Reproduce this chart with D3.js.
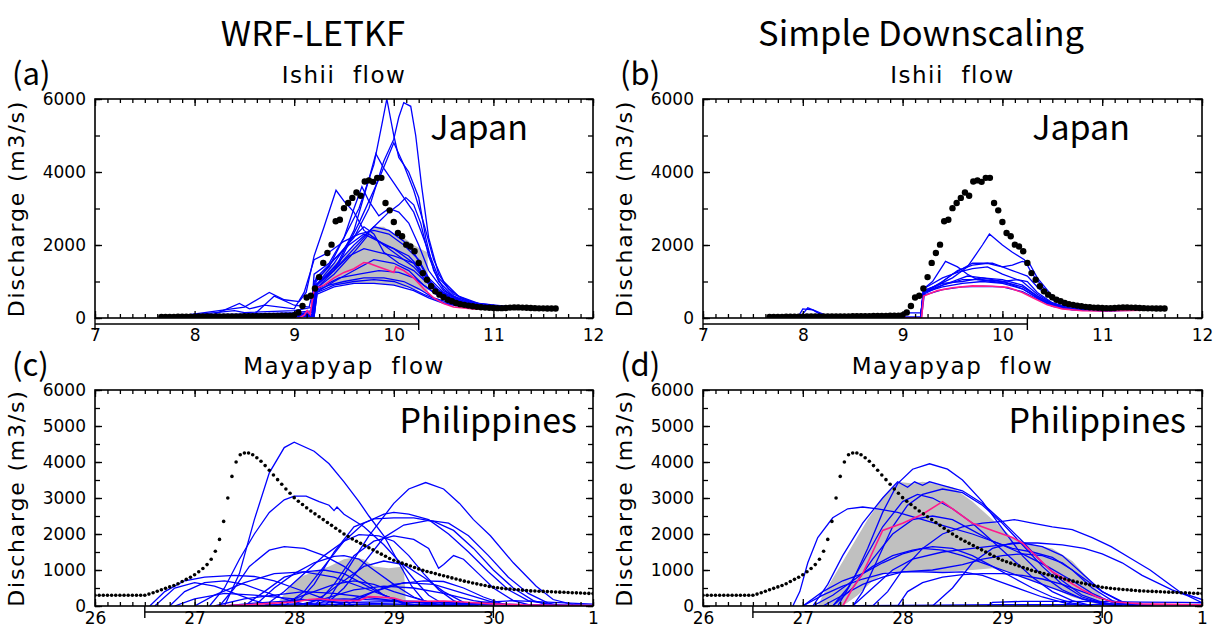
<!DOCTYPE html>
<html>
<head>
<meta charset="utf-8">
<script src="https://cdn.jsdelivr.net/npm/d3@7.9.0/dist/d3.min.js"></script>
<style>
  body { margin: 0; background: #fff; }
  svg text { fill: #000; }
</style>
</head>
<body>
<svg id="chart" width="1215" height="630"></svg>
<script>
// ---- observed discharge (hourly) ----
const japanObsStart = 7 + 16 / 24;
const japanObs = [
  30, 30, 30, 30, 35, 35, 35, 35, 35, 40, 40, 40, 40, 40, 40, 45,
  45, 45, 45, 45, 50, 50, 50, 50, 50, 55, 55, 55, 55, 60, 60, 65,
  80, 150, 330, 560, 610, 810, 1120, 1510, 1780, 2010, 2650, 2690, 3010, 3150,
  3290, 3440, 3350, 3740, 3770, 3730, 3840, 3840, 3150, 2950, 2630, 2330, 2240, 2010,
  1960, 1830, 1510, 1230, 1050, 870, 730, 640, 570, 500, 460, 410, 380, 360,
  340, 320, 305, 295, 285, 280, 275, 270, 270, 275, 285, 290, 290, 285, 280,
  275, 270, 265, 265, 260, 260, 260
];
const philObsStart = 26;
const philObs = [
  300, 300, 300, 300, 300, 300, 300, 300, 300, 300, 300, 300, 300,
  330, 370, 410, 450, 490, 530, 570, 620, 680, 740, 800, 870,
  950, 1040, 1150, 1300, 1520, 1850, 2350, 3000, 3600, 4000, 4200, 4250,
  4250, 4200, 4120, 4020, 3900, 3770, 3640, 3510, 3380, 3250, 3130, 3010,
  2910, 2820, 2730, 2640, 2560, 2480, 2400, 2320, 2240, 2160, 2080, 2000,
  1930, 1860, 1800, 1740, 1680, 1620, 1560, 1500, 1440, 1380, 1320, 1270,
  1230, 1190, 1150, 1110, 1070, 1030, 990, 960, 930, 900, 870, 840,
  810, 780, 750, 720, 690, 665, 640, 615, 590, 570, 545, 520,
  505, 490, 480, 470, 460, 450, 440, 430, 420, 415, 410, 405,
  400, 395, 390, 385, 380, 375, 370, 365, 360, 355, 350, 345
];

// ---- ensemble members: [day, discharge] ----
const japanLetkfMembers = [
  [[7.7,0],[8.0,30],[8.5,60],[9.0,100],[9.17,150],[9.2,1200],[9.35,1500],[9.5,2200],[9.65,3000],[9.8,4200],[9.88,5300],[9.93,6000],[10.0,5000],[10.05,4400],[10.15,4000],[10.25,3300],[10.32,2200],[10.4,1300],[10.5,800],[10.6,560],[10.8,380],[11.0,310],[11.3,290],[11.6,260]],
  [[7.7,0],[8.5,40],[9.0,80],[9.18,100],[9.22,1000],[9.4,1600],[9.6,2200],[9.75,3000],[9.9,4300],[10.0,4900],[10.05,5500],[10.1,5900],[10.17,5800],[10.22,5000],[10.28,3600],[10.35,2200],[10.45,1200],[10.55,800],[10.7,500],[10.9,360],[11.2,300],[11.6,260]],
  [[7.7,0],[8.7,120],[9.0,150],[9.2,200],[9.23,900],[9.45,1500],[9.65,2600],[9.85,3800],[10.0,4800],[10.1,4200],[10.2,3500],[10.3,2600],[10.4,1600],[10.5,1000],[10.65,600],[10.85,400],[11.2,300],[11.6,260]],
  [[7.7,0],[8.3,100],[9.0,120],[9.2,150],[9.22,800],[9.4,1300],[9.6,2400],[9.75,3800],[9.82,4500],[9.9,4100],[10.0,3700],[10.1,3300],[10.2,2900],[10.27,2400],[10.35,1800],[10.45,1100],[10.6,650],[10.8,420],[11.1,310],[11.6,260]],
  [[7.7,0],[8.1,150],[8.5,300],[8.75,700],[8.9,500],[9.05,450],[9.12,700],[9.2,1700],[9.3,2500],[9.42,3500],[9.5,3200],[9.6,2900],[9.7,2400],[9.8,2200],[9.9,2000],[10.0,1900],[10.1,1700],[10.2,1500],[10.3,1100],[10.45,700],[10.6,480],[10.8,350],[11.1,300],[11.6,260]],
  [[7.7,0],[8.5,50],[9.0,100],[9.19,100],[9.21,900],[9.4,1300],[9.6,1900],[9.8,2500],[9.95,2900],[10.05,3100],[10.12,3300],[10.2,3100],[10.27,2600],[10.35,1700],[10.45,1000],[10.6,600],[10.8,400],[11.1,300],[11.6,260]],
  [[7.7,0],[8.6,80],[9.0,90],[9.18,150],[9.2,1000],[9.35,1400],[9.5,2200],[9.6,3000],[9.68,3600],[9.75,3200],[9.85,2800],[9.95,3000],[10.05,2900],[10.15,2600],[10.25,2000],[10.35,1300],[10.5,750],[10.7,450],[11.0,300],[11.6,260]],
  [[7.7,0],[8.4,200],[8.5,150],[9.0,200],[9.2,300],[9.23,900],[9.4,1400],[9.6,2000],[9.8,2500],[9.95,2400],[10.1,2100],[10.2,1800],[10.3,1300],[10.4,850],[10.6,520],[10.8,380],[11.1,300],[11.6,260]],
  [[7.7,0],[8.6,100],[8.8,600],[9.0,350],[9.15,300],[9.22,1100],[9.4,1600],[9.55,2000],[9.7,2300],[9.85,2100],[10.0,1900],[10.15,1700],[10.25,1400],[10.35,1000],[10.5,650],[10.7,420],[11.0,300],[11.6,255]],
  [[7.7,0],[9.0,60],[9.19,80],[9.22,800],[9.4,1200],[9.6,1800],[9.75,2300],[9.9,2000],[10.05,1700],[10.2,1400],[10.3,1100],[10.45,700],[10.6,480],[10.9,330],[11.6,250]],
  [[7.7,0],[9.0,50],[9.19,60],[9.22,700],[9.4,1000],[9.6,1300],[9.8,1600],[10.0,1500],[10.15,1300],[10.3,900],[10.45,600],[10.6,420],[10.9,300],[11.6,250]],
  [[7.7,0],[9.0,40],[9.19,50],[9.22,750],[9.35,900],[9.5,1000],[9.7,1100],[9.9,1100],[10.1,1000],[10.25,800],[10.4,550],[10.6,380],[10.9,290],[11.6,250]],
  [[7.7,0],[9.0,40],[9.2,50],[9.23,650],[9.4,850],[9.6,950],[9.8,950],[10.0,900],[10.2,750],[10.35,550],[10.5,400],[10.7,300],[11.0,260],[11.6,250]],
  [[7.7,0],[9.0,40],[9.2,40],[9.23,700],[9.4,900],[9.6,1000],[9.8,1050],[10.0,1000],[10.15,850],[10.3,650],[10.5,420],[10.7,310],[11.0,260],[11.6,250]],
  [[7.7,0],[9.0,60],[9.19,70],[9.22,900],[9.4,1300],[9.55,1700],[9.7,1900],[9.85,1800],[10.0,1700],[10.2,1500],[10.3,1200],[10.45,750],[10.6,500],[10.9,330],[11.6,255]],
  [[7.7,0],[9.0,50],[9.2,60],[9.23,800],[9.45,1100],[9.65,1200],[9.85,1300],[10.05,1250],[10.2,1100],[10.35,800],[10.5,520],[10.7,360],[11.0,280],[11.6,250]],
  [[7.7,0],[8.2,100],[8.45,400],[8.55,250],[8.7,350],[9.0,250],[9.1,700],[9.2,1600],[9.35,1800],[9.5,2100],[9.65,2300],[9.8,2400],[9.95,2300],[10.1,2000],[10.25,1600],[10.35,1100],[10.5,700],[10.7,430],[11.0,300],[11.6,260]],
  [[7.7,0],[9.0,50],[9.19,50],[9.22,900],[9.4,1500],[9.55,2100],[9.7,2500],[9.8,2300],[9.9,1800],[10.05,1500],[10.2,1300],[10.3,1050],[10.45,700],[10.6,470],[10.9,320],[11.6,255]]
];
const japanLetkfMean = [[7.7,0],[9.05,0],[9.1,80],[9.13,200],[9.16,100],[9.2,800],[9.3,900],[9.4,1100],[9.5,1250],[9.6,1350],[9.7,1520],[9.75,1500],[9.85,1400],[9.95,1300],[10.0,1250],[10.02,1400],[10.1,1300],[10.2,1100],[10.3,800],[10.4,550],[10.5,400],[10.6,300],[10.8,250],[11.0,240],[11.6,240]];
const japanLetkfBandHigh = [[9.25,800],[9.3,1300],[9.5,1700],[9.7,2200],[9.8,2500],[9.9,2500],[10.0,2300],[10.1,2200],[10.2,2000],[10.3,1850],[10.34,1800]];
const japanLetkfBandLow = [[9.25,800],[9.4,900],[9.6,950],[9.8,950],[10.0,900],[10.2,800],[10.34,700]];

const japanSdMembers = [
  [[7.7,0],[7.95,20],[8.0,250],[8.1,220],[8.2,60],[8.4,20],[9.0,30],[9.05,140],[9.18,140],[9.19,30],[9.22,700],[9.35,900],[9.5,1100],[9.65,1400],[9.8,2000],[9.87,2300],[10.0,2000],[10.1,1800],[10.22,1600],[10.3,1200],[10.45,700],[10.6,420],[10.8,260],[11.0,210],[11.3,220],[11.6,230]],
  [[7.7,0],[7.97,10],[8.05,280],[8.12,200],[8.25,50],[9.0,20],[9.18,30],[9.21,800],[9.3,1000],[9.43,1550],[9.55,1400],[9.65,1200],[9.75,1050],[9.9,1000],[10.05,950],[10.2,800],[10.35,550],[10.5,320],[10.7,220],[11.0,200],[11.6,230]],
  [[7.7,0],[9.18,20],[9.21,750],[9.35,900],[9.5,1200],[9.7,1500],[9.9,1500],[10.0,1400],[10.1,1450],[10.2,1550],[10.27,1500],[10.35,1100],[10.5,600],[10.7,320],[11.0,220],[11.6,230]],
  [[7.7,0],[9.18,20],[9.21,700],[9.4,1000],[9.55,1300],[9.7,1450],[9.85,1500],[10.0,1400],[10.1,1300],[10.25,1150],[10.35,850],[10.5,500],[10.7,300],[11.0,210],[11.6,230]],
  [[7.7,0],[9.18,15],[9.21,650],[9.4,900],[9.6,1050],[9.8,1050],[10.0,1000],[10.2,850],[10.35,600],[10.5,380],[10.7,250],[11.0,200],[11.6,225]],
  [[7.7,0],[9.18,15],[9.21,700],[9.4,850],[9.6,950],[9.8,1000],[10.0,950],[10.2,800],[10.35,560],[10.5,350],[10.7,240],[11.0,200],[11.6,225]],
  [[7.7,0],[9.18,10],[9.21,750],[9.4,950],[9.6,1000],[9.8,1100],[10.0,1050],[10.2,900],[10.35,600],[10.5,370],[10.7,250],[11.0,200],[11.6,225]],
  [[7.7,0],[9.18,10],[9.21,620],[9.4,780],[9.6,850],[9.8,870],[10.0,850],[10.2,720],[10.35,520],[10.5,330],[10.7,230],[11.0,195],[11.6,225]],
  [[7.7,0],[9.18,10],[9.21,800],[9.4,1100],[9.55,1250],[9.7,1350],[9.85,1400],[10.0,1200],[10.2,1000],[10.35,650],[10.5,400],[10.7,260],[11.0,205],[11.6,228]],
  [[7.7,0],[9.18,10],[9.21,700],[9.35,850],[9.5,1000],[9.65,1150],[9.8,1100],[9.9,1050],[10.0,1000],[10.15,1050],[10.25,1000],[10.35,700],[10.5,420],[10.7,260],[11.0,205],[11.6,228]]
];
const japanSdMean = [[7.7,0],[9.19,0],[9.21,600],[9.35,750],[9.5,830],[9.7,880],[9.9,870],[10.05,840],[10.2,700],[10.3,560],[10.45,360],[10.6,250],[10.8,200],[11.0,190],[11.3,210],[11.6,225]];

const philLetkfMembers = [
  [[27.3,0],[27.45,900],[27.6,2400],[27.75,3700],[27.9,4400],[28.0,4550],[28.2,4300],[28.35,3950],[28.5,3450],[28.65,2900],[28.75,2500],[28.9,1950],[29.05,1200],[29.18,550],[29.3,150],[29.45,20],[29.6,0]],
  [[28.2,0],[28.35,200],[28.45,650],[28.6,1300],[28.75,1950],[29.0,2850],[29.15,3250],[29.32,3430],[29.5,3250],[29.66,2850],[29.8,2400],[29.97,1950],[30.2,1200],[30.43,550],[30.6,180],[30.8,40],[31,0]],
  [[27.15,0],[27.3,500],[27.45,1300],[27.6,2000],[27.75,2600],[27.9,2950],[28.0,3050],[28.12,3050],[28.25,2900],[28.35,2800],[28.4,2650],[28.43,2750],[28.5,2550],[28.7,2200],[28.9,1700],[29.05,1250],[29.2,750],[29.35,300],[29.5,50],[29.7,0]],
  [[27.9,0],[28.1,400],[28.3,1100],[28.5,1800],[28.7,2300],[28.9,2550],[29.0,2600],[29.15,2550],[29.35,2400],[29.55,2000],[29.75,1500],[29.95,950],[30.15,450],[30.35,150],[30.6,30],[30.8,0]],
  [[28.0,0],[28.2,600],[28.4,1500],[28.6,2200],[28.8,2420],[29.0,2450],[29.2,2450],[29.4,2350],[29.6,2100],[29.8,1600],[30.0,1000],[30.2,500],[30.4,150],[30.6,0]],
  [[28.3,0],[28.5,500],[28.7,1200],[28.9,1900],[29.1,2250],[29.35,2380],[29.55,2300],[29.75,1950],[29.95,1400],[30.15,800],[30.35,350],[30.55,80],[30.7,0]],
  [[28.2,0],[28.4,600],[28.6,1400],[28.8,1800],[29.0,1950],[29.2,1850],[29.35,1600],[29.45,1050],[29.5,1150],[29.6,1400],[29.7,1300],[29.85,900],[30.0,500],[30.2,150],[30.4,0]],
  [[27.25,0],[27.4,500],[27.55,1100],[27.75,1550],[27.9,1650],[28.1,1600],[28.3,1400],[28.5,1100],[28.7,700],[28.9,300],[29.1,50],[29.2,0]],
  [[27.6,0],[27.8,500],[28.0,900],[28.2,1200],[28.4,1380],[28.5,1400],[28.65,1300],[28.8,1000],[29.0,600],[29.2,250],[29.4,50],[29.5,0]],
  [[27.7,0],[27.9,400],[28.1,900],[28.3,1400],[28.5,1800],[28.65,1980],[28.85,1950],[29.0,1800],[29.15,1400],[29.3,900],[29.45,450],[29.6,150],[29.75,0]],
  [[26.55,0],[26.7,400],[26.9,700],[27.1,800],[27.4,850],[27.6,820],[27.8,700],[28.0,500],[28.2,300],[28.4,100],[28.6,0]],
  [[26.75,0],[26.9,400],[27.1,650],[27.3,700],[27.5,600],[27.7,400],[27.9,200],[28.1,50],[28.3,0]],
  [[26.6,0],[26.8,500],[27.0,650],[27.2,550],[27.4,350],[27.6,150],[27.8,0]],
  [[27.0,0],[27.2,300],[27.5,650],[27.8,900],[28.1,950],[28.4,800],[28.7,500],[29.0,200],[29.2,0]],
  [[28.1,0],[28.3,300],[28.5,700],[28.7,1100],[28.9,1250],[29.1,1150],[29.3,800],[29.5,400],[29.7,100],[29.85,0]],
  [[28.4,0],[28.7,300],[29.0,600],[29.3,700],[29.5,680],[29.7,500],[29.9,250],[30.1,50],[30.3,0]],
  [[28.5,0],[28.8,400],[29.1,650],[29.4,600],[29.7,350],[30.0,100],[30.2,0]],
  [[27.5,0],[27.7,400],[27.9,800],[28.1,950],[28.3,1000],[28.5,900],[28.7,600],[28.9,300],[29.1,80],[29.3,0]],
  [[27.2,0],[27.5,200],[27.8,300],[28.1,400],[28.4,350],[28.7,250],[29.0,150],[29.4,50],[29.8,0]],
  [[27.3,0],[27.6,80],[28.0,150],[28.5,200],[29.0,150],[29.5,100],[30.0,50],[30.5,20],[31,10]],
  [[27.5,0],[28.0,60],[28.5,100],[29.0,120],[29.5,80],[30.0,50],[31,20]],
  [[28.0,0],[28.3,200],[28.6,450],[28.9,550],[29.2,500],[29.5,350],[29.8,150],[30.1,30],[30.3,0]],
  [[27.8,0],[28.1,300],[28.4,600],[28.6,700],[28.8,600],[29.0,400],[29.3,150],[29.5,0]],
  [[29.6,0],[29.9,100],[30.2,150],[30.6,100],[31,50]],
  [[26.8,0],[27.0,200],[27.3,350],[27.6,300],[28.0,200],[28.5,100],[29.0,50],[29.5,0]],
  [[27.3,0],[28.0,30],[29.0,50],[30.0,30],[31,10]]
];
const philLetkfMean = [[27.2,0],[27.5,30],[27.8,80],[28.0,110],[28.15,180],[28.25,200],[28.35,170],[28.5,150],[28.65,150],[28.75,260],[28.85,250],[29.0,220],[29.1,140],[29.3,130],[29.5,140],[29.7,110],[30.0,60],[30.3,30],[30.6,20],[31,10]];
const philLetkfBandHigh = [[27.85,150],[27.95,500],[28.05,800],[28.2,950],[28.35,1100],[28.5,1300],[28.6,1350],[28.7,1300],[28.8,1100],[28.95,1050],[29.1,1100],[29.12,150]];
const philLetkfBandLow = [[27.85,150],[28.0,120],[28.3,150],[28.6,180],[28.9,180],[29.12,150]];

const philSdMembers = [
  [[27.35,0],[27.5,700],[27.65,1600],[27.8,2600],[27.95,3400],[28.1,3800],[28.27,3950],[28.45,3800],[28.6,3500],[28.8,2900],[29.0,2150],[29.2,1400],[29.4,850],[29.6,450],[29.8,200],[30.0,80],[30.3,20],[30.5,0]],
  [[26.9,0],[26.97,400],[27.05,1200],[27.15,1900],[27.3,2450],[27.45,2700],[27.6,2750],[27.75,2700],[27.95,2600],[28.2,2400],[28.45,2200],[28.7,2000],[28.95,1750],[29.2,1450],[29.45,1100],[29.7,700],[29.9,350],[30.1,100],[30.3,0]],
  [[27.5,0],[27.6,400],[27.75,1300],[27.9,2200],[28.05,2800],[28.2,3100],[28.4,3250],[28.6,3150],[28.8,2800],[29.0,2300],[29.2,1700],[29.4,1100],[29.6,600],[29.8,250],[30.0,80],[30.2,0]],
  [[27.1,0],[27.25,600],[27.4,1400],[27.6,2300],[27.8,3000],[27.95,3450],[28.05,3300],[28.12,3450],[28.2,3350],[28.27,3450],[28.4,3350],[28.6,3200],[28.8,2850],[29.0,2350],[29.2,1800],[29.4,1200],[29.6,700],[29.8,300],[30.0,100],[30.2,0]],
  [[27.3,0],[27.45,500],[27.6,1200],[27.8,2200],[28.0,2900],[28.15,3100],[28.3,3000],[28.5,2700],[28.7,2300],[28.9,1800],[29.1,1300],[29.3,800],[29.5,400],[29.7,150],[29.9,0]],
  [[27.7,0],[27.85,400],[28.0,1000],[28.2,1600],[28.4,2000],[28.6,2200],[28.8,2300],[29.0,2350],[29.12,2400],[29.3,2300],[29.5,2200],[29.7,2120],[29.9,1900],[30.09,1650],[30.3,1300],[30.48,1000],[30.65,650],[30.79,370],[31,180]],
  [[28.3,0],[28.5,500],[28.7,1200],[28.9,1600],[29.1,1750],[29.35,1750],[29.6,1700],[29.82,1600],[30.0,1450],[30.2,1200],[30.4,850],[30.55,650],[30.7,450],[30.86,280],[31,90]],
  [[27.1,0],[27.3,300],[27.5,700],[27.7,1100],[27.9,1400],[28.1,1550],[28.3,1650],[28.5,1600],[28.7,1400],[28.9,1100],[29.1,800],[29.3,500],[29.5,250],[29.7,80],[29.9,0]],
  [[27.0,0],[27.2,300],[27.4,550],[27.6,750],[27.8,900],[28.0,950],[28.2,950],[28.4,930],[28.6,950],[28.8,850],[29.0,650],[29.2,450],[29.4,250],[29.6,100],[29.8,0]],
  [[27.95,0],[28.05,400],[28.2,650],[28.4,800],[28.6,870],[28.8,900],[29.0,900],[29.2,850],[29.4,750],[29.6,600],[29.8,400],[30.0,200],[30.2,60],[30.4,0]],
  [[28.85,0],[28.9,100],[29.2,130],[29.6,130],[30.0,120],[30.4,110],[30.8,100],[31,90]],
  [[27.5,0],[27.7,500],[27.9,1000],[28.1,1300],[28.4,1500],[28.7,1600],[29.0,1700],[29.2,1750],[29.4,1650],[29.6,1400],[29.8,900],[30.0,400],[30.2,100],[30.4,0]],
  [[27.0,0],[27.2,400],[27.4,700],[27.6,900],[27.8,1200],[28.0,1450],[28.2,1600],[28.4,1550],[28.6,1400],[28.8,1200],[29.0,1000],[29.2,800],[29.4,600],[29.6,400],[29.8,200],[30.0,50],[30.2,0]],
  [[27.2,0],[27.4,300],[27.6,600],[27.8,800],[28.0,950],[28.3,1000],[28.6,1150],[28.8,1300],[29.0,1400],[29.2,1450],[29.4,1400],[29.6,1200],[29.8,800],[30.0,400],[30.2,120],[30.4,0]],
  [[27.3,0],[27.5,500],[27.7,1300],[27.9,2000],[28.1,2400],[28.3,2500],[28.5,2400],[28.7,2100],[28.9,1800],[29.1,1600],[29.3,1500],[29.5,1350],[29.7,1000],[29.9,500],[30.1,150],[30.3,0]],
  [[27.0,0],[28.0,20],[29.0,40],[30.0,40],[31,30]]
];
const philSdMean = [[27.4,0],[27.5,500],[27.6,900],[27.7,1500],[27.8,2100],[28.0,2300],[28.2,2550],[28.4,2900],[28.55,2600],[28.7,2300],[28.9,2100],[29.1,1900],[29.2,1750],[29.35,1350],[29.5,950],[29.65,700],[29.8,450],[29.95,250],[30.1,120],[30.4,60],[31,30]];
const philSdBandHigh = [[27.15,0],[27.2,300],[27.35,1000],[27.5,1700],[27.65,2400],[27.8,3000],[27.95,3450],[28.1,3400],[28.2,3450],[28.3,3400],[28.5,3300],[28.7,2900],[28.9,2400],[29.1,1900],[29.3,1700],[29.5,1600],[29.7,1250],[29.85,800],[30.0,250]];
const philSdBandLow = [[27.15,0],[27.4,0],[27.55,300],[27.7,700],[27.85,950],[28.1,950],[28.4,950],[28.7,1000],[28.9,1050],[29.1,900],[29.3,700],[29.5,500],[29.7,250],[29.9,80],[30.0,0]];

// ---- axis labels ----
const japanDays = [7, 8, 9, 10, 11, 12];
const japanDayLabels = ["7", "8", "9", "10", "11", "12"];
const philDays = [26, 27, 28, 29, 30, 31];
const philDayLabels = ["26", "27", "28", "29", "30", "1"];
const japanYTicks = [0, 2000, 4000, 6000];
const philYTicks = [0, 1000, 2000, 3000, 4000, 5000, 6000];

const svg = d3.select("#chart");
svg.append("rect").attr("width", 1215).attr("height", 630).attr("fill", "#fff");

const tickFont = "DejaVu Sans";
const titleFont = "'Noto Sans CJK JP', 'Noto Sans', sans-serif";

const panels = [
  { key: "a", left: 95, top: 99, w: 498, h: 219, domain: [7, 12], days: japanDays, dayLabels: japanDayLabels,
    yTicks: japanYTicks, yMinor: 1000, bracket: [7, 10.25], obsStart: japanObsStart, obs: japanObs, dotR: 3.2,
    members: japanLetkfMembers, mean: japanLetkfMean, bandHigh: japanLetkfBandHigh, bandLow: japanLetkfBandLow,
    flow: "Ishii  flow", country: "Japan", countryRight: 65, countryY: 41, labelPad: 11 },
  { key: "b", left: 703, top: 99, w: 499, h: 219, domain: [7, 12], days: japanDays, dayLabels: japanDayLabels,
    yTicks: japanYTicks, yMinor: 1000, bracket: [7, 10.25], obsStart: japanObsStart, obs: japanObs, dotR: 3.2,
    members: japanSdMembers, mean: japanSdMean, bandHigh: null, bandLow: null,
    flow: "Ishii  flow", country: "Japan", countryRight: 72, countryY: 41, labelPad: 11 },
  { key: "c", left: 95, top: 390, w: 498, h: 216, domain: [26, 31], days: philDays, dayLabels: philDayLabels,
    yTicks: philYTicks, yMinor: 500, bracket: [26.5, 30], obsStart: philObsStart, obs: philObs, dotR: 1.8,
    members: philLetkfMembers, mean: philLetkfMean, bandHigh: philLetkfBandHigh, bandLow: philLetkfBandLow,
    flow: "Mayapyap  flow", country: "Philippines", countryRight: 16, countryY: 43, labelPad: 6 },
  { key: "d", left: 703, top: 390, w: 499, h: 216, domain: [26, 31], days: philDays, dayLabels: philDayLabels,
    yTicks: philYTicks, yMinor: 500, bracket: [26.5, 30], obsStart: philObsStart, obs: philObs, dotR: 1.8,
    members: philSdMembers, mean: philSdMean, bandHigh: philSdBandHigh, bandLow: philSdBandLow,
    flow: "Mayapyap  flow", country: "Philippines", countryRight: 16, countryY: 43, labelPad: 6 }
];

// column titles
svg.append("text").attr("x", 313).attr("y", 46).attr("text-anchor", "middle")
  .style("font-family", titleFont).style("font-size", "34.5px").text("WRF-LETKF");
svg.append("text").attr("x", 921).attr("y", 46).attr("text-anchor", "middle")
  .style("font-family", titleFont).style("font-size", "34.5px").text("Simple Downscaling");

panels.forEach((p) => {
  const g = svg.append("g").attr("transform", `translate(${p.left},${p.top})`);
  const x = d3.scaleLinear().domain(p.domain).range([0, p.w]);
  const y = d3.scaleLinear().domain([0, 6000]).range([p.h, 0]);

  const clipId = "clip-" + p.key;
  g.append("clipPath").attr("id", clipId)
    .append("rect").attr("width", p.w).attr("height", p.h);
  const plot = g.append("g").attr("clip-path", `url(#${clipId})`);

  const line = d3.line().x((d) => x(d[0])).y((d) => y(d[1]));

  if (p.bandHigh) {
    const poly = p.bandHigh.concat(p.bandLow.slice().reverse());
    plot.append("path")
      .attr("d", line(poly) + "Z")
      .attr("fill", "#c0c0c0").attr("stroke", "none");
  }

  plot.selectAll("path.member").data(p.members).enter().append("path")
    .attr("class", "member")
    .attr("d", line)
    .attr("fill", "none").attr("stroke", "#0000ff").attr("stroke-width", 1.3);

  plot.append("path").attr("d", line(p.mean))
    .attr("fill", "none").attr("stroke", "#ff1a8c").attr("stroke-width", 1.6);

  plot.selectAll("circle.obs").data(p.obs).enter().append("circle")
    .attr("class", "obs")
    .attr("cx", (d, i) => x(p.obsStart + i / 24))
    .attr("cy", (d) => y(d))
    .attr("r", p.dotR).attr("fill", "#000");

  // axes: minor and major ticks, pointing inward
  const minorX = d3.range(p.domain[0], p.domain[1] + 0.001, 0.125);
  const minorY = d3.range(0, 6001, p.yMinor);
  const fmtX = (d) => p.dayLabels[p.days.indexOf(d)];

  const addAxis = (axis, tr) => {
    const a = g.append("g").attr("transform", tr).call(axis);
    a.select(".domain").remove();
    a.selectAll(".tick line").attr("stroke", "#000").attr("stroke-width", 1.3);
    return a;
  };

  addAxis(d3.axisBottom(x).tickValues(minorX).tickSize(-4).tickFormat(""), `translate(0,${p.h})`);
  const bx = addAxis(d3.axisBottom(x).tickValues(p.days).tickSize(-7).tickPadding(p.labelPad).tickFormat(fmtX), `translate(0,${p.h})`);
  bx.selectAll("text").style("font-family", tickFont).style("font-size", "17px");
  addAxis(d3.axisTop(x).tickValues(minorX).tickSize(-4).tickFormat(""), "translate(0,0)");
  addAxis(d3.axisTop(x).tickValues(p.days).tickSize(-7).tickFormat(""), "translate(0,0)");

  addAxis(d3.axisLeft(y).tickValues(minorY).tickSize(-5).tickFormat(""), "translate(0,0)");
  const ly = addAxis(d3.axisLeft(y).tickValues(p.yTicks).tickSize(-7).tickPadding(9).tickFormat(d3.format("d")), "translate(0,0)");
  ly.selectAll("text").style("font-family", tickFont).style("font-size", "17px");
  addAxis(d3.axisRight(y).tickValues(minorY).tickSize(-5).tickFormat(""), `translate(${p.w},0)`);
  addAxis(d3.axisRight(y).tickValues(p.yTicks).tickSize(-7).tickFormat(""), `translate(${p.w},0)`);

  g.append("rect").attr("width", p.w).attr("height", p.h)
    .attr("fill", "none").attr("stroke", "#000").attr("stroke-width", 1.6);

  // period bracket below the axis
  const br = g.append("g").attr("stroke", "#000").attr("stroke-width", 1.4);
  br.append("line").attr("x1", x(p.bracket[0])).attr("x2", x(p.bracket[1]))
    .attr("y1", p.h + 6).attr("y2", p.h + 6);
  p.bracket.forEach((b) => {
    br.append("line").attr("x1", x(b)).attr("x2", x(b)).attr("y1", p.h).attr("y2", p.h + 12);
  });

  // texts
  g.append("text")
    .attr("transform", `rotate(-90,-71,${p.h / 2})`)
    .attr("x", -71).attr("y", p.h / 2).attr("text-anchor", "middle")
    .style("font-family", tickFont).style("font-size", "22px").style("letter-spacing", "1.8px")
    .text("Discharge (m3/s)");

  g.append("text").attr("x", p.w / 2).attr("y", -16).attr("text-anchor", "middle")
    .style("font-family", tickFont).style("font-size", "23px").style("letter-spacing", "1.5px")
    .style("white-space", "pre").text(p.flow);

  g.append("text").attr("x", -83).attr("y", -14)
    .style("font-family", titleFont).style("font-size", "31px").text(`(${p.key})`);

  g.append("text").attr("x", p.w - p.countryRight).attr("y", p.countryY).attr("text-anchor", "end")
    .style("font-family", titleFont).style("font-size", "34px").text(p.country);
});
</script>
</body>
</html>
